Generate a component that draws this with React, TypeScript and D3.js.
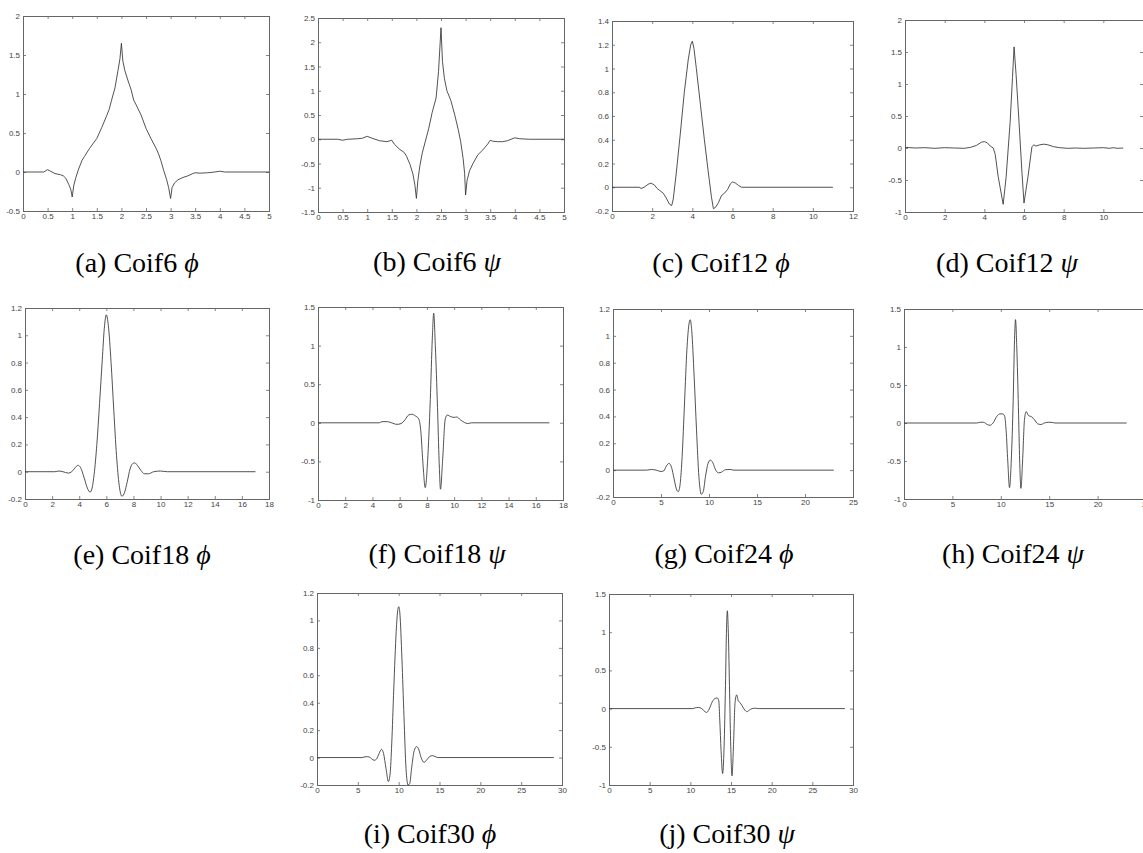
import React, { useRef, useEffect } from 'react';
import * as d3 from 'd3';

const W = 1143;
const H = 853;

// curve samples: [x, y]
const coif6Phi: [number, number][] = [
  [0, 0], [0.42, 0], [0.5, 0.03], [0.56, 0.01], [0.65, -0.02], [0.76, -0.035], [0.82, -0.05],
  [0.87, -0.08], [0.93, -0.16], [0.97, -0.22], [1.0, -0.32], [1.03, -0.18], [1.07, -0.08],
  [1.12, 0.02], [1.2, 0.15], [1.25, 0.2], [1.35, 0.3], [1.5, 0.43], [1.6, 0.57], [1.7, 0.72],
  [1.75, 0.8], [1.8, 0.92], [1.87, 1.08], [1.93, 1.3], [1.97, 1.45], [2.0, 1.65], [2.03, 1.42],
  [2.07, 1.3], [2.13, 1.18], [2.2, 1.05], [2.25, 0.92], [2.3, 0.86], [2.4, 0.73], [2.5, 0.56],
  [2.6, 0.43], [2.7, 0.31], [2.75, 0.24], [2.8, 0.15], [2.86, 0.02], [2.92, -0.1], [2.96, -0.2],
  [3.0, -0.34], [3.03, -0.2], [3.08, -0.14], [3.15, -0.1], [3.25, -0.07], [3.35, -0.05],
  [3.45, -0.02], [3.5, -0.01], [3.6, -0.015], [3.75, -0.01], [3.9, 0], [4.0, 0.01], [4.1, 0], [5, 0],
];

const coif6Psi: [number, number][] = [
  [0, 0], [0.4, 0], [0.5, -0.02], [0.6, 0], [0.8, 0.01], [0.9, 0.02], [1.0, 0.06], [1.1, 0.02],
  [1.25, -0.03], [1.4, -0.05], [1.5, -0.02], [1.55, -0.1], [1.65, -0.2], [1.75, -0.27], [1.8, -0.35],
  [1.87, -0.52], [1.93, -0.72], [1.97, -0.95], [2.0, -1.22], [2.03, -0.85], [2.07, -0.55],
  [2.12, -0.28], [2.18, -0.05], [2.25, 0.22], [2.32, 0.55], [2.4, 0.85], [2.45, 1.4], [2.5, 2.3],
  [2.53, 1.6], [2.57, 1.25], [2.62, 1.0], [2.7, 0.8], [2.78, 0.5], [2.85, 0.2], [2.9, -0.05],
  [2.95, -0.4], [2.98, -0.7], [3.0, -1.15], [3.03, -0.85], [3.08, -0.65], [3.15, -0.5],
  [3.25, -0.32], [3.35, -0.22], [3.45, -0.1], [3.5, -0.02], [3.55, -0.04], [3.65, -0.05],
  [3.75, -0.05], [3.85, -0.03], [4.0, 0.03], [4.1, 0.01], [4.3, 0], [5, 0],
];

const coif12Phi: [number, number][] = [
  [0, 0], [1.35, 0], [1.45, -0.01], [1.6, 0], [1.8, 0.025], [1.95, 0.035], [2.1, 0.02],
  [2.25, -0.01], [2.4, -0.03], [2.55, -0.05], [2.7, -0.09], [2.85, -0.14], [2.97, -0.155],
  [3.05, -0.1], [3.2, 0.12], [3.4, 0.45], [3.6, 0.8], [3.8, 1.08], [3.92, 1.2], [4.0, 1.23],
  [4.08, 1.17], [4.2, 1.0], [4.4, 0.7], [4.6, 0.4], [4.8, 0.12], [4.95, -0.08], [5.05, -0.18],
  [5.15, -0.17], [5.3, -0.13], [5.45, -0.07], [5.6, -0.05], [5.75, -0.02], [5.9, 0.03],
  [6.0, 0.045], [6.15, 0.035], [6.3, 0.015], [6.45, 0], [11, 0],
];

const coif12Psi: [number, number][] = [
  [0, 0.01], [0.5, 0], [1, 0.005], [1.5, -0.005], [2, 0.005], [2.5, 0], [3, -0.005], [3.3, 0.01],
  [3.6, 0.04], [3.85, 0.09], [4.0, 0.1], [4.15, 0.08], [4.3, 0.03], [4.45, 0.0], [4.55, -0.1],
  [4.7, -0.45], [4.95, -0.88], [5.1, -0.45], [5.3, 0.4], [5.42, 1.1], [5.5, 1.58], [5.6, 1.15],
  [5.75, 0.4], [5.9, -0.4], [6.0, -0.86], [6.2, -0.45], [6.4, 0.02], [6.5, 0.05], [6.6, 0.03],
  [6.8, 0.05], [7.0, 0.06], [7.2, 0.05], [7.5, 0.02], [7.8, 0.005], [8.2, -0.005], [8.6, 0],
  [9.0, -0.005], [9.5, 0.0], [10, 0.005], [10.3, -0.005], [10.5, 0.005], [10.7, -0.005], [11, 0],
];

const coif18Phi: [number, number][] = [
  [0, 0], [2.2, 0], [2.5, 0.005], [2.8, 0], [3.2, -0.01], [3.45, 0], [3.7, 0.03], [3.9, 0.047],
  [4.1, 0.03], [4.35, -0.04], [4.6, -0.12], [4.8, -0.15], [4.95, -0.12], [5.1, -0.02], [5.3, 0.2],
  [5.5, 0.5], [5.7, 0.82], [5.85, 1.05], [6.0, 1.15], [6.15, 1.07], [6.35, 0.8], [6.55, 0.45],
  [6.75, 0.12], [6.95, -0.1], [7.15, -0.18], [7.35, -0.15], [7.55, -0.07], [7.75, 0.02],
  [7.95, 0.06], [8.1, 0.065], [8.3, 0.045], [8.55, 0.01], [8.8, -0.015], [9.1, -0.015],
  [9.5, 0], [10, 0.005], [10.5, 0], [17, 0],
];

const coif18Psi: [number, number][] = [
  [0, 0], [4.5, 0], [4.7, 0.015], [5.1, 0.015], [5.4, 0], [5.8, -0.02], [6.1, -0.01], [6.4, 0.04],
  [6.65, 0.1], [6.9, 0.11], [7.15, 0.09], [7.4, 0.05], [7.55, -0.1], [7.7, -0.5], [7.88, -0.84],
  [8.05, -0.5], [8.25, 0.3], [8.4, 1.1], [8.5, 1.42], [8.62, 1.0], [8.78, 0.2], [8.9, -0.5],
  [9.0, -0.86], [9.15, -0.5], [9.35, 0.05], [9.5, 0.1], [9.75, 0.08], [10.0, 0.07], [10.2, 0.075],
  [10.45, 0.04], [10.75, 0.005], [11.0, -0.01], [11.3, 0], [17, 0],
];

const coif24Phi: [number, number][] = [
  [0, 0], [3.5, 0], [4.0, 0.005], [4.5, 0], [5.0, -0.01], [5.3, -0.005], [5.55, 0.03], [5.85, 0.05],
  [6.1, 0.02], [6.35, -0.06], [6.6, -0.14], [6.8, -0.16], [7.0, -0.1], [7.2, 0.1], [7.45, 0.5],
  [7.7, 0.9], [7.9, 1.08], [8.05, 1.12], [8.2, 1.04], [8.45, 0.7], [8.7, 0.3], [8.95, -0.05],
  [9.2, -0.18], [9.4, -0.16], [9.65, -0.04], [9.9, 0.05], [10.15, 0.075], [10.4, 0.055],
  [10.7, 0.0], [11.0, -0.02], [11.3, -0.015], [11.7, 0.003], [12.2, 0.005], [12.6, 0], [23, 0],
];

const coif24Psi: [number, number][] = [
  [0, 0], [7.5, 0], [7.9, 0.01], [8.2, 0.01], [8.6, -0.02], [8.9, -0.03], [9.2, 0], [9.6, 0.09],
  [9.9, 0.12], [10.2, 0.12], [10.4, 0.09], [10.55, -0.1], [10.72, -0.5], [10.9, -0.85],
  [11.08, -0.5], [11.28, 0.3], [11.42, 1.1], [11.52, 1.36], [11.65, 1.0], [11.82, 0.2],
  [11.95, -0.5], [12.08, -0.86], [12.25, -0.5], [12.45, 0.05], [12.63, 0.15], [12.85, 0.1],
  [13.2, 0.08], [13.5, 0.04], [13.8, -0.01], [14.15, -0.02], [14.5, 0], [15.0, 0.01],
  [15.3, 0.008], [15.6, 0], [23, 0],
];

const coif30Phi: [number, number][] = [
  [0, 0], [5.5, 0], [6.0, 0.007], [6.4, 0.004], [7.0, -0.02], [7.3, -0.01], [7.6, 0.03], [7.9, 0.06],
  [8.15, 0.03], [8.45, -0.08], [8.75, -0.175], [8.95, -0.12], [9.15, 0.1], [9.4, 0.5], [9.7, 0.92],
  [9.9, 1.08], [10.02, 1.1], [10.15, 1.05], [10.4, 0.72], [10.65, 0.3], [10.9, -0.08],
  [11.15, -0.2], [11.35, -0.19], [11.6, -0.07], [11.9, 0.05], [12.2, 0.08], [12.45, 0.06],
  [12.75, 0.0], [13.1, -0.035], [13.4, -0.02], [13.75, 0.005], [14.1, 0.014], [14.45, 0.008],
  [14.8, 0], [29, 0],
];

const coif30Psi: [number, number][] = [
  [0, 0], [10.3, 0], [10.6, 0.01], [11.0, 0.015], [11.4, 0], [11.8, -0.04], [12.0, -0.05],
  [12.3, -0.01], [12.7, 0.09], [13.0, 0.13], [13.3, 0.14], [13.5, 0.1], [13.62, -0.15],
  [13.78, -0.55], [13.97, -0.85], [14.15, -0.5], [14.32, 0.3], [14.45, 1.05], [14.55, 1.28],
  [14.67, 1.0], [14.83, 0.2], [14.97, -0.5], [15.12, -0.88], [15.3, -0.5], [15.5, 0.08],
  [15.7, 0.18], [15.9, 0.1], [16.1, 0.08], [16.35, 0.04], [16.7, -0.02], [16.95, -0.04],
  [17.25, -0.02], [17.6, 0.0], [18.0, 0.005], [18.4, 0], [29, 0],
];

// tick values
const ticks5 = [0, 0.5, 1, 1.5, 2, 2.5, 3, 3.5, 4, 4.5, 5];
const ticks12 = [0, 2, 4, 6, 8, 10, 12];
const ticks12Cut = [0, 2, 4, 6, 8, 10];
const ticks18 = [0, 2, 4, 6, 8, 10, 12, 14, 16, 18];
const ticks25 = [0, 5, 10, 15, 20, 25];
const ticks30 = [0, 5, 10, 15, 20, 25, 30];
const yTicksA = [-0.5, 0, 0.5, 1, 1.5, 2];
const yTicksB = [-1.5, -1, -0.5, 0, 0.5, 1, 1.5, 2, 2.5];
const yTicksPhi = [-0.2, 0, 0.2, 0.4, 0.6, 0.8, 1, 1.2];
const yTicksC = [-0.2, 0, 0.2, 0.4, 0.6, 0.8, 1, 1.2, 1.4];
const yTicksD = [-1, -0.5, 0, 0.5, 1, 1.5, 2];
const yTicksPsi = [-1, -0.5, 0, 0.5, 1, 1.5];

const captions = ['(a) Coif6', '(b) Coif6', '(c) Coif12', '(d) Coif12', '(e) Coif18',
  '(f) Coif18', '(g) Coif24', '(h) Coif24', '(i) Coif30', '(j) Coif30'];
const greek = ['ϕ', 'ψ', 'ϕ', 'ψ', 'ϕ', 'ψ', 'ϕ', 'ψ', 'ϕ', 'ψ'];

const panels = [
  { data: coif6Phi, xd: [0, 5], yd: [-0.5, 2], xt: ticks5, yt: yTicksA, smooth: false },
  { data: coif6Psi, xd: [0, 5], yd: [-1.5, 2.5], xt: ticks5, yt: yTicksB, smooth: false },
  { data: coif12Phi, xd: [0, 12], yd: [-0.2, 1.4], xt: ticks12, yt: yTicksC, smooth: false },
  { data: coif12Psi, xd: [0, 12], yd: [-1, 2], xt: ticks12Cut, yt: yTicksD, smooth: false },
  { data: coif18Phi, xd: [0, 18], yd: [-0.2, 1.2], xt: ticks18, yt: yTicksPhi, smooth: true },
  { data: coif18Psi, xd: [0, 18], yd: [-1, 1.5], xt: ticks18, yt: yTicksPsi, smooth: true },
  { data: coif24Phi, xd: [0, 25], yd: [-0.2, 1.2], xt: ticks25, yt: yTicksPhi, smooth: true },
  { data: coif24Psi, xd: [0, 25], yd: [-1, 1.5], xt: ticks25, yt: yTicksPsi, smooth: true },
  { data: coif30Phi, xd: [0, 30], yd: [-0.2, 1.2], xt: ticks30, yt: yTicksPhi, smooth: true },
  { data: coif30Psi, xd: [0, 30], yd: [-1, 1.5], xt: ticks30, yt: yTicksPsi, smooth: true },
];

// layout: plot box [left, top, right, bottom] and caption [centerX, baseline]
const boxes = [
  [23, 16, 269, 211], [318, 18, 564, 212], [612, 21, 853, 211], [905, 20, 1143, 212],
  [25, 308, 269, 499], [318, 307, 563, 500], [613, 309, 853, 497], [904, 309, 1146, 499],
  [317, 593, 562, 785], [609, 594, 853, 785],
];
const capPos = [
  [137, 272], [437, 271], [721, 272], [1007, 272],
  [142, 564], [437, 563], [724, 563], [1013, 563],
  [430, 843], [727, 843],
];

const App = () => {
  const svgRef = useRef<SVGSVGElement>(null);

  useEffect(() => {
    const svg = d3.select(svgRef.current);
    svg.selectAll('*').remove();

    svg.append('rect').attr('width', W).attr('height', H).attr('fill', '#fff');

    const fmt = (d: any) => String(d);

    panels.forEach((p, i) => {
      const [l, t, r, b] = boxes[i];
      const x = d3.scaleLinear().domain(p.xd).range([l, r]);
      const y = d3.scaleLinear().domain(p.yd).range([b, t]);
      const g = svg.append('g');

      // matlab style: ticks on all four sides, pointing inward
      const axes = [
        { ax: d3.axisBottom(x).tickValues(p.xt).tickPadding(2), tr: `translate(0,${b})`, lab: true },
        { ax: d3.axisTop(x).tickValues(p.xt), tr: `translate(0,${t})`, lab: false },
        { ax: d3.axisLeft(y).tickValues(p.yt).tickPadding(3), tr: `translate(${l},0)`, lab: true },
        { ax: d3.axisRight(y).tickValues(p.yt), tr: `translate(${r},0)`, lab: false },
      ];
      axes.forEach(a => {
        const ag = g.append('g')
          .attr('transform', a.tr)
          .call(a.ax.tickSizeInner(-3).tickSizeOuter(0).tickFormat(a.lab ? fmt : () => ''));
        ag.select('.domain').remove();
        ag.selectAll('line').attr('stroke', '#666').attr('stroke-width', 0.8);
        ag.selectAll('text')
          .attr('fill', '#444')
          .style('font-family', '"Liberation Sans", Arial, sans-serif')
          .style('font-size', '8px');
      });

      g.append('rect')
        .attr('x', l + 0.5).attr('y', t + 0.5)
        .attr('width', r - l).attr('height', b - t)
        .attr('fill', 'none')
        .attr('stroke', '#666')
        .attr('stroke-width', 1);

      const line = d3.line<[number, number]>()
        .x(d => x(d[0]))
        .y(d => y(d[1]))
        .curve(p.smooth ? d3.curveMonotoneX : d3.curveLinear);

      g.append('path')
        .datum(p.data)
        .attr('d', line)
        .attr('fill', 'none')
        .attr('stroke', '#333')
        .attr('stroke-width', 0.85);

      const [cx, cy] = capPos[i];
      const txt = g.append('text')
        .attr('x', cx).attr('y', cy)
        .attr('text-anchor', 'middle')
        .style('font-family', '"Liberation Serif", "Times New Roman", serif')
        .style('font-size', '28px')
        .attr('fill', '#000');
      txt.append('tspan').text(captions[i] + ' ');
      txt.append('tspan').style('font-style', 'italic').text(greek[i]);
    });
  }, []);

  return (
    <svg
      ref={svgRef}
      width={W}
      height={H}
      style={{ position: 'absolute', left: 0, top: 0 }}
    />
  );
};

export default App;
